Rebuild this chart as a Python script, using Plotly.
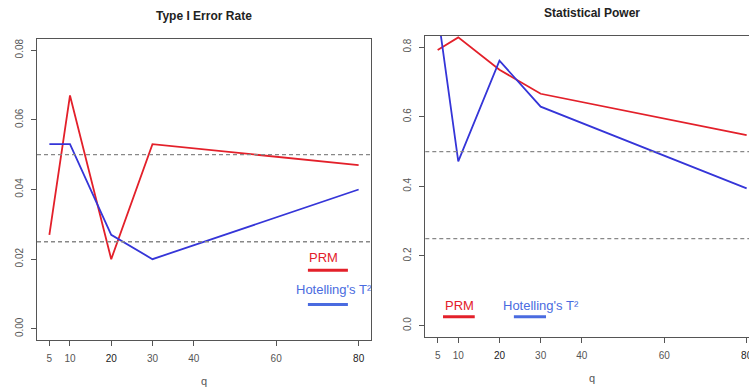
import plotly.graph_objects as go

q = [5, 10, 20, 30, 80]
err_prm = [0.027, 0.067, 0.020, 0.053, 0.047]
err_hot = [0.053, 0.053, 0.027, 0.020, 0.040]
pow_prm = [0.792, 0.828, 0.735, 0.666, 0.547]
pow_hot = [0.90, 0.472, 0.761, 0.629, 0.394]
err_refs = [0.05, 0.025]
pow_refs = [0.5, 0.25]
x_ticks = [5, 10, 20, 30, 40, 60, 80]
x_tick_text = ["5", "10", "<span style='color:#222'>20</span>", "30", "40", "60",
               "<span style='color:#222'>80</span>"]
err_ticks = [0.0, 0.02, 0.04, 0.06, 0.08]
err_tick_text = ["0.00", "0.02", "0.04", "0.06", "0.08"]
pow_ticks = [0.0, 0.2, 0.4, 0.6, 0.8]
pow_tick_text = ["0.0", "0.2", "0.4", "0.6", "0.8"]
titles = ["Type I Error Rate", "Statistical Power"]
series_names = ["PRM", "Hotelling's T²"]

RED = "#e3202a"
BLUE = "#3535d8"
LBLUE = "#4a6be0"
GRAY = "#555555"
W, H = 749, 391
FONT = "Liberation Sans, Arial, sans-serif"

fig = go.Figure()

def add_lines(xa, ya, prm, hot):
    fig.add_trace(go.Scatter(x=q, y=prm, mode="lines", line=dict(color=RED, width=1.8),
                             xaxis=xa, yaxis=ya, showlegend=False, cliponaxis=True))
    fig.add_trace(go.Scatter(x=q, y=hot, mode="lines", line=dict(color=BLUE, width=1.8),
                             xaxis=xa, yaxis=ya, showlegend=False, cliponaxis=True))

add_lines("x", "y", err_prm, err_hot)
add_lines("x2", "y2", pow_prm, pow_hot)

shapes = []
for v in err_refs:
    shapes.append(dict(type="line", xref="x domain", yref="y", x0=0, x1=1, y0=v, y1=v,
                       line=dict(color="#888888", width=1.3, dash="4px,3px")))
for v in pow_refs:
    shapes.append(dict(type="line", xref="x2 domain", yref="y2", x0=0, x1=1, y0=v, y1=v,
                       line=dict(color="#888888", width=1.3, dash="4px,3px")))

# legend keys
shapes.append(dict(type="line", xref="x", yref="y", x0=67.7, x1=77.4, y0=0.0168, y1=0.0168,
                   line=dict(color=RED, width=3)))
shapes.append(dict(type="line", xref="x", yref="y", x0=67.7, x1=77.4, y0=0.0070, y1=0.0070,
                   line=dict(color=LBLUE, width=3)))
shapes.append(dict(type="line", xref="x2", yref="y2", x0=6.3, x1=14.0, y0=0.025, y1=0.025,
                   line=dict(color=RED, width=3)))
shapes.append(dict(type="line", xref="x2", yref="y2", x0=23.5, x1=31.3, y0=0.025, y1=0.025,
                   line=dict(color=LBLUE, width=3)))

def ann(**kw):
    d = dict(showarrow=False, xanchor="center", yanchor="middle")
    d.update(kw)
    return d

annotations = [
    ann(text=series_names[0], xref="x", yref="y", x=71.5, y=0.0206,
        font=dict(color=RED, size=13, family=FONT)),
    ann(text=series_names[1], xref="x", yref="y", x=74.1, y=0.0113,
        font=dict(color=LBLUE, size=13, family=FONT)),
    ann(text=series_names[0], xref="x2", yref="y2", x=10.2, y=0.0575,
        font=dict(color=RED, size=13, family=FONT)),
    ann(text=series_names[1], xref="x2", yref="y2", x=30.2, y=0.0566,
        font=dict(color=LBLUE, size=13, family=FONT)),
    ann(text="<b>" + titles[0] + "</b>", xref="paper", yref="paper", x=204 / W, y=1 - 16 / H,
        font=dict(size=12, color="#222222", family=FONT)),
    ann(text="<b>" + titles[1] + "</b>", xref="paper", yref="paper", x=592 / W, y=1 - 13 / H,
        font=dict(size=12, color="#222222", family=FONT)),
    ann(text="q", xref="paper", yref="paper", x=204 / W, y=1 - 381 / H,
        font=dict(size=11, color=GRAY, family=FONT)),
    ann(text="q", xref="paper", yref="paper", x=592 / W, y=1 - 378 / H,
        font=dict(size=11, color=GRAY, family=FONT)),
]

axis_common = dict(showgrid=False, zeroline=False, showline=True, linecolor=GRAY, linewidth=1,
                   ticks="outside", ticklen=5, tickcolor=GRAY, automargin=False,
                   ticklabeloverflow="allow", ticklabelstandoff=4,
                   tickfont=dict(size=10, color=GRAY, family=FONT))

fig.update_layout(
    width=W, height=H, margin=dict(l=0, r=0, t=0, b=0, autoexpand=False),
    paper_bgcolor="white", plot_bgcolor="white", showlegend=False,
    xaxis=dict(domain=[37 / W, 371 / W], range=[2, 83], tickvals=x_ticks, ticktext=x_tick_text,
               mirror=True, anchor="y", **axis_common),
    yaxis=dict(domain=[1 - 340 / H, 1 - 39 / H], range=[-0.0032, 0.0832], tickvals=err_ticks,
               ticktext=err_tick_text, tickangle=-90, mirror=True, anchor="x", **axis_common),
    xaxis2=dict(domain=[425.3 / W, 1], range=[2, 80.57], tickvals=x_ticks, ticktext=x_tick_text,
                mirror=True, anchor="y2", **axis_common),
    yaxis2=dict(domain=[1 - 336.7 / H, 1 - 36 / H], range=[-0.032, 0.832], tickvals=pow_ticks,
                ticktext=pow_tick_text, tickangle=-90, mirror=False, anchor="x2", **axis_common),
    shapes=shapes, annotations=annotations,
)

fig.write_html("out.html", config={"displayModeBar": False},
               post_script="document.body.style.margin='0px';document.body.style.overflow='hidden';")
